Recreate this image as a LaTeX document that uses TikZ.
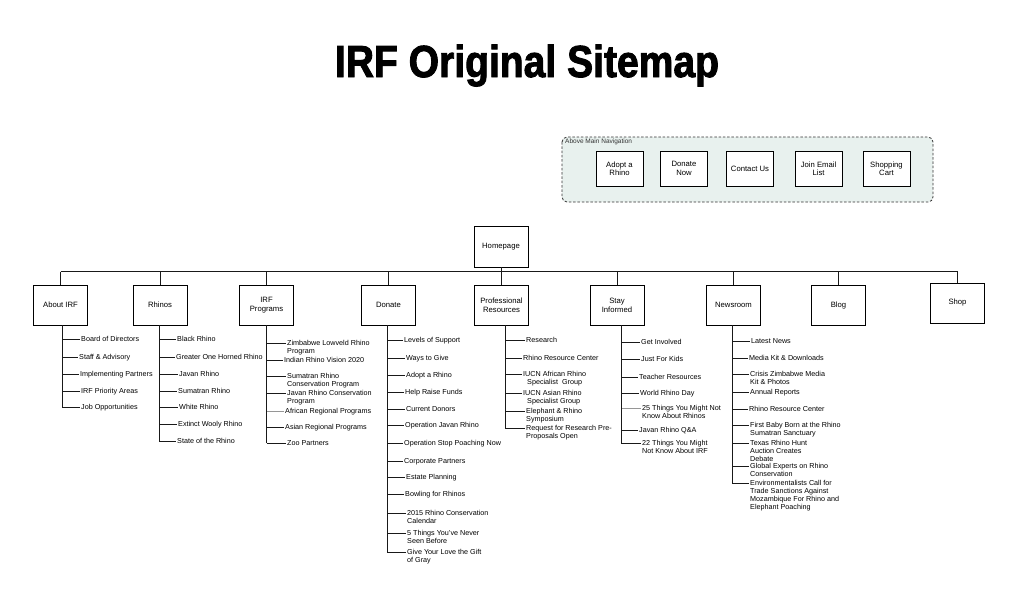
\documentclass[tikz,border=0pt]{standalone}
\usepackage{fontspec}
\setmainfont{Liberation Sans}
\newfontfamily\titlefont{Liberation Sans}[UprightFont={* Bold}, FakeBold=2.2]
\usetikzlibrary{shadows}
\definecolor{navfill}{RGB}{232,241,238}
\definecolor{lk}{RGB}{25,25,25}
\definecolor{lg}{RGB}{150,150,150}
\tikzset{
  link/.style={line width=0.9pt, lk},
  pagebox/.style={draw=black, line width=0.8pt, fill=white, minimum width=54pt, minimum height=40pt,
    inner sep=1pt, align=center, font=\fontsize{7.7}{9.3}\selectfont,
    drop shadow={shadow xshift=0.9pt, shadow yshift=-0.9pt, fill=black!60, opacity=1}},
  navbtn/.style={pagebox, minimum width=47pt, minimum height=35pt, font=\fontsize{7.7}{8.3}\selectfont},
  lbl/.style={anchor=north west, inner sep=0pt, align=left, font=\fontsize{7.2}{8}\selectfont},
}
% #1 column id, #2 parent box, #3 spine x, #4 list x/y/colour/text (y = centre of first line)
\newcommand{\sitecol}[4]{%
  \coordinate (#1-sp) at (#3,0);
  \foreach \x/\y/\col/\txt [count=\idx] in {#4} {
    \node[lbl] (#1-\idx) at (\x,\y-3) {\rule{0pt}{5.6pt}\txt};
    \coordinate (#1-t\idx) at ([yshift=-3pt]#1-\idx.north west -| #1-sp);
    \draw[link, draw=\col] (#1-t\idx) -- ([xshift=-1.5pt,yshift=-3pt]#1-\idx.north west);
    \ifnum\idx=1
      \draw[link] (#2.south -| #1-sp) -- (#1-t\idx);
    \else
      \pgfmathtruncatemacro\prev{\idx-1}
      \draw[link] (#1-t\prev) -- (#1-t\idx);
    \fi
  }
}
\begin{document}
\begin{tikzpicture}[x=1pt,y=-1pt]
\fill[white] (0,0) rectangle (1024,606);
\useasboundingbox (0,0) rectangle (1024,606);

% title
\node[anchor=base, inner sep=0pt] (title) at (527,77) {\resizebox{384pt}{32.5pt}{\titlefont IRF Original Sitemap}};

% above main navigation
\draw[fill=navfill, draw=black!80, line width=0.8pt, dash pattern=on 2.5pt off 1.8pt, rounded corners=5pt]
  (562,137) rectangle (933,202);
\node[anchor=west, inner sep=0pt, font=\fontsize{6.5}{7}\selectfont, text=black!80] (navlbl) at (565,141.8) {Above Main Navigation};
\node[navbtn] (nav1) at (619.5,168.5) {Adopt a\\Rhino};
\node[navbtn] (nav2) at (684,168.5) {Donate\\Now};
\node[navbtn] (nav3) at (750,168.5) {Contact Us};
\node[navbtn] (nav4) at (818.5,168.5) {Join Email\\List};
\node[navbtn] (nav5) at (886.5,168.5) {Shopping\\Cart};

% homepage and first level
\node[pagebox, minimum height=41pt] (home) at (501,246.5) {Homepage};
\node[pagebox] (about) at (60.5,305) {About IRF};
\node[pagebox] (rhinos) at (160,305) {Rhinos};
\node[pagebox] (progs) at (266.5,305) {IRF\\Programs};
\node[pagebox] (donate) at (388.5,305) {Donate};
\node[pagebox] (prof) at (501.5,305) {Professional\\Resources};
\node[pagebox] (stay) at (617,305) {Stay\\Informed};
\node[pagebox] (news) at (733.5,305) {Newsroom};
\node[pagebox] (blog) at (838.5,305) {Blog};
\node[pagebox] (shop) at (957.5,303) {Shop};

\coordinate (bus) at (0,271.5);
\draw[link] (about.north |- bus) -- (shop.north |- bus);
\draw[link] (home.south) -- (home.south |- bus);
\foreach \b in {about,rhinos,progs,donate,prof,stay,news,blog,shop}
  \draw[link] (\b.north |- bus) -- (\b.north);

% second level lists
\sitecol{ab}{about}{62}{
  81/339/lk/Board of Directors,
  79/357/lk/Staff \& Advisory,
  80/374/lk/Implementing Partners,
  81/391/lk/IRF Priority Areas,
  81/407/lk/Job Opportunities}

\sitecol{rh}{rhinos}{159}{
  177/339/lk/Black Rhino,
  176/357/lk/Greater One Horned Rhino,
  179/374/lk/Javan Rhino,
  178/391/lk/Sumatran Rhino,
  179/407/lk/White Rhino,
  178/424/lk/Extinct Wooly Rhino,
  177/441/lk/State of the Rhino}

\sitecol{pr}{progs}{266.5}{
  287/343/lk/{Zimbabwe Lowveld Rhino\\Program},
  284/360/lk/Indian Rhino Vision 2020,
  287/376/lk/{Sumatran Rhino\\Conservation Program},
  287/393/lk/{Javan Rhino Conservation\\Program},
  285/411/lg/African Regional Programs,
  285/427/lk/Asian Regional Programs,
  287/443/lk/Zoo Partners}

\sitecol{do}{donate}{387}{
  404/340/lk/Levels of Support,
  406/358/lk/Ways to Give,
  406/375/lk/Adopt a Rhino,
  405/392/lk/Help Raise Funds,
  406/409/lk/Current Donors,
  405/425/lk/Operation Javan Rhino,
  404/443/lk/Operation Stop Poaching Now,
  404/461/lk/Corporate Partners,
  406/477/lk/Estate Planning,
  405/494/lk/Bowling for Rhinos,
  407/513/lk/{2015 Rhino Conservation\\Calendar},
  407/533/lk/{5 Things You've Never\\Seen Before},
  407/552/lk/{Give Your Love the Gift\\of Gray}}

\sitecol{re}{prof}{505}{
  526/340/lk/Research,
  523/358/lk/Rhino Resource Center,
  523/374/lk/{IUCN African Rhino\\\hspace*{4pt}Specialist\ \ Group},
  523/393/lk/{IUCN Asian Rhino\\\hspace*{4pt}Specialist Group},
  526/411/lk/{Elephant \& Rhino\\Symposium},
  526/428/lk/{Request for Research Pre-\\Proposals Open}}

\sitecol{st}{stay}{621}{
  641/342/lk/Get Involved,
  641/359/lk/Just For Kids,
  639/377/lk/Teacher Resources,
  640/393/lk/World Rhino Day,
  642/408/lg/{25 Things You Might Not\\Know About Rhinos},
  639/430/lk/Javan Rhino Q\&A,
  642/443/lk/{22 Things You Might\\Not Know About IRF}}

\sitecol{nw}{news}{732}{
  751/341/lk/Latest News,
  749/358/lk/Media Kit \& Downloads,
  750/374/lk/{Crisis Zimbabwe Media\\Kit \& Photos},
  750/392/lk/Annual Reports,
  749/409/lk/Rhino Resource Center,
  750/425/lk/{First Baby Born at the Rhino\\Sumatran Sanctuary},
  750/443/lk/{Texas Rhino Hunt\\Auction Creates\\Debate},
  750/466/lk/{Global Experts on Rhino\\Conservation},
  750/483/lk/{Environmentalists Call for\\Trade Sanctions Against\\Mozambique For Rhino and\\Elephant Poaching}}

\end{tikzpicture}
\end{document}
